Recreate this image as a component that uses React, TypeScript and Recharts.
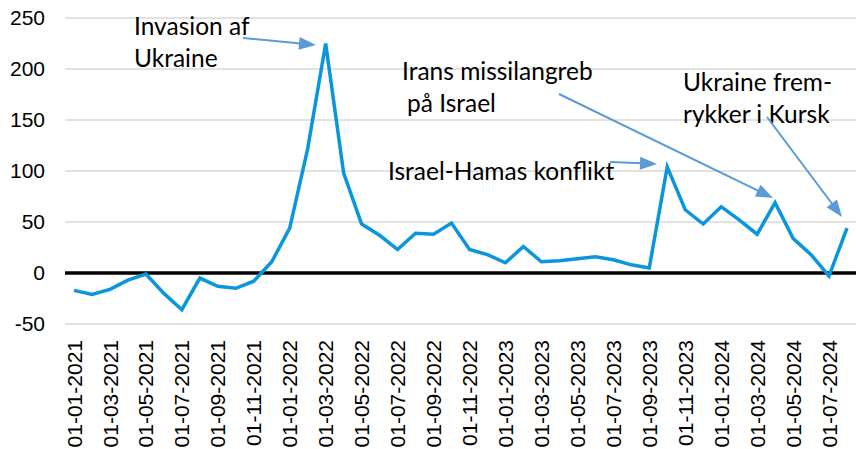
import React from 'react';
import { LineChart, Line, XAxis, YAxis, CartesianGrid, ReferenceLine } from 'recharts';

const categories: string[] = [
  '01-01-2021', '01-02-2021', '01-03-2021', '01-04-2021', '01-05-2021', '01-06-2021',
  '01-07-2021', '01-08-2021', '01-09-2021', '01-10-2021', '01-11-2021', '01-12-2021',
  '01-01-2022', '01-02-2022', '01-03-2022', '01-04-2022', '01-05-2022', '01-06-2022',
  '01-07-2022', '01-08-2022', '01-09-2022', '01-10-2022', '01-11-2022', '01-12-2022',
  '01-01-2023', '01-02-2023', '01-03-2023', '01-04-2023', '01-05-2023', '01-06-2023',
  '01-07-2023', '01-08-2023', '01-09-2023', '01-10-2023', '01-11-2023', '01-12-2023',
  '01-01-2024', '01-02-2024', '01-03-2024', '01-04-2024', '01-05-2024', '01-06-2024',
  '01-07-2024', '01-08-2024',
];

const values: number[] = [
  -17, -21, -16, -7, -1, -20, -36, -5, -13, -15, -8, 11,
  44, 122, 225, 98, 48, 37, 23, 39, 38, 49, 23, 18,
  10, 26, 11, 12, 14, 16, 13, 8, 5, 104, 62, 48,
  65, 52, 38, 69, 34, 18, -3, 44,
];

const yTicks: number[] = [-50, 0, 50, 100, 150, 200, 250];

const data = categories.map((c, i) => ({ date: c, value: values[i] }));

type Annotation = { lines: { text: string; x: number; y: number }[]; from: [number, number]; to: [number, number] };

const annotations: Annotation[] = [
  {
    lines: [
      { text: 'Invasion af', x: 134, y: 35 },
      { text: 'Ukraine', x: 134, y: 67 },
    ],
    from: [243, 38],
    to: [316, 45],
  },
  {
    lines: [
      { text: 'Irans missilangreb', x: 402, y: 80 },
      { text: 'på Israel', x: 407, y: 112 },
    ],
    from: [559, 94],
    to: [773, 198],
  },
  {
    lines: [{ text: 'Israel-Hamas konflikt', x: 388, y: 180 }],
    from: [610, 162],
    to: [657, 164],
  },
  {
    lines: [
      { text: 'Ukraine frem-', x: 683, y: 91 },
      { text: 'rykker i Kursk', x: 683, y: 123 },
    ],
    from: [767, 117],
    to: [842, 217],
  },
];

const ARROW = '#5b9bd5';

function Arrow({ from, to }: { from: [number, number]; to: [number, number] }) {
  const [x1, y1] = from;
  const [x2, y2] = to;
  const dx = x2 - x1;
  const dy = y2 - y1;
  const len = Math.sqrt(dx * dx + dy * dy);
  const ux = dx / len;
  const uy = dy / len;
  const hl = 17;
  const hw = 6.5;
  const bx = x2 - ux * hl;
  const by = y2 - uy * hl;
  const px = -uy;
  const py = ux;
  const pts = `${x2},${y2} ${bx + px * hw},${by + py * hw} ${bx - px * hw},${by - py * hw}`;
  return (
    <g>
      <line x1={x1} y1={y1} x2={bx + ux * 2} y2={by + uy * 2} stroke={ARROW} strokeWidth={2} />
      <polygon points={pts} fill={ARROW} />
    </g>
  );
}

function XTick(props: any) {
  const { x, y, payload } = props;
  return (
    <g transform={`translate(${x},${y})`}>
      <text
        transform="rotate(-90)"
        textAnchor="end"
        dy="0.36em"
        fontFamily="'Liberation Sans', Arial, sans-serif"
        fontSize={21}
        fill="#000"
      >
        {payload.value}
      </text>
    </g>
  );
}

export default function App() {
  return (
    <div style={{ position: 'absolute', left: 0, top: 0, width: 856, height: 449, background: '#fff' }}>
      <LineChart width={856} height={449} data={data} margin={{ top: 18, right: 0, left: 0, bottom: 0 }}>
        <CartesianGrid vertical={false} stroke="#d9d9d9" strokeWidth={1.3} />
        <XAxis
          dataKey="date"
          interval={1}
          tickLine={false}
          axisLine={false}
          tickSize={0}
          tickMargin={16}
          height={125}
          padding={{ left: 9, right: 9 }}
          tick={<XTick />}
        />
        <YAxis
          domain={[-50, 250]}
          ticks={yTicks}
          tickLine={false}
          axisLine={false}
          tickSize={0}
          tickMargin={20}
          width={65}
          tick={{ fontFamily: "'Liberation Sans', Arial, sans-serif", fontSize: 21, fill: '#000' }}
        />
        <ReferenceLine y={0} stroke="#000" strokeWidth={3.5} />
        <Line
          type="linear"
          dataKey="value"
          stroke="#0a96dc"
          strokeWidth={3.5}
          dot={false}
          isAnimationActive={false}
        />
      </LineChart>
      <svg width={856} height={449} style={{ position: 'absolute', left: 0, top: 0, pointerEvents: 'none' }}>
        {annotations.map((a, i) => (
          <g key={i}>
            {a.lines.map((l, j) => (
              <text key={j} x={l.x} y={l.y} fontFamily="Lato, 'Open Sans', sans-serif" fontWeight={400} fontSize={24.5} fill="#000">
                {l.text}
              </text>
            ))}
            <Arrow from={a.from} to={a.to} />
          </g>
        ))}
      </svg>
    </div>
  );
}
